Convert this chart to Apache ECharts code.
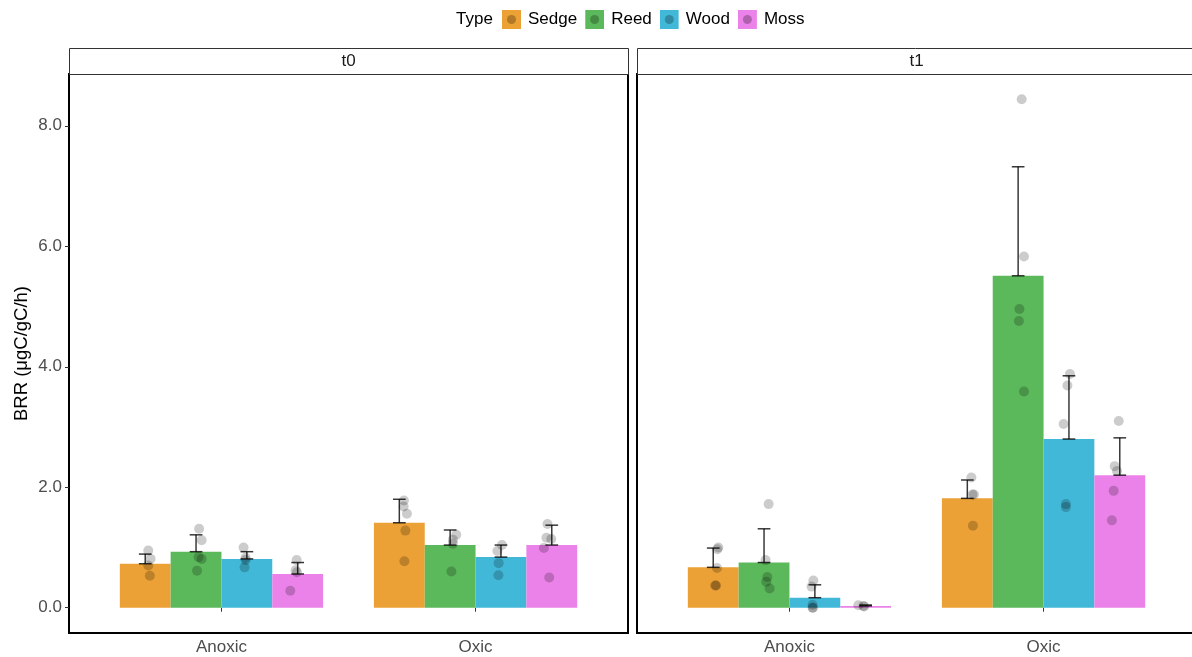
<!DOCTYPE html>
<html>
<head>
<meta charset="utf-8">
<title>BRR by type</title>
<script src="https://cdn.jsdelivr.net/npm/echarts@6/dist/echarts.min.js"></script>
<style>
  html, body { margin: 0; padding: 0; background: #fff; }
  #chart { width: 1192px; height: 657px; }
</style>
</head>
<body>
<div id="chart"></div>
<script>
// Facets, x categories and fill groups
const panelLabels = ['t0', 't1'];
const conditions = ['Anoxic', 'Oxic'];
const types = ['Sedge', 'Reed', 'Wood', 'Moss'];
const yTicks = [0, 2, 4, 6, 8];

// Mean BRR per group, ordered t0-Anoxic, t0-Oxic, t1-Anoxic, t1-Oxic
const sedgeMean = [0.73, 1.41, 0.67, 1.815];
const reedMean  = [0.93, 1.04, 0.75, 5.51];
const woodMean  = [0.81, 0.84, 0.166, 2.80];
const mossMean  = [0.56, 1.04, 0.03, 2.20];

// Standard deviations (drawn as upper error bars)
const sedgeSd = [0.16, 0.39, 0.32, 0.305];
const reedSd  = [0.28, 0.25, 0.56, 1.81];
const woodSd  = [0.12, 0.20, 0.214, 1.05];
const mossSd  = [0.19, 0.33, 0.015, 0.62];

// Replicate measurements
const sedgeReps = [[0.95, 0.81, 0.70, 0.53], [1.78, 1.68, 1.56, 1.28, 0.77], [1.00, 0.97, 0.66, 0.37, 0.37], [2.16, 1.88, 1.88, 1.36]];
const reedReps  = [[1.31, 1.12, 0.84, 0.81, 0.615], [1.21, 1.13, 1.06, 0.60], [1.72, 0.79, 0.51, 0.43, 0.32], [8.44, 5.83, 4.96, 4.76, 3.59]];
const woodReps  = [[1.00, 0.83, 0.79, 0.67], [1.04, 0.94, 0.74, 0.54], [0.45, 0.35, 0.05, 0.0, 0.0], [3.88, 3.69, 3.05, 1.72, 1.67]];
const mossReps  = [[0.79, 0.62, 0.59, 0.28], [1.39, 1.16, 1.14, 0.99, 0.50], [0.04, 0.03, 0.02], [3.10, 2.35, 2.27, 1.94, 1.45]];

// Horizontal jitter of the replicate points, in category units
const sedgeJitter = [[0.012, 0.021, 0.012, 0.018], [0.018, 0.017, 0.030, 0.024, 0.020], [0.020, 0.016, 0.015, 0.011, 0.008], [0.016, 0.020, 0.026, 0.022]];
const reedJitter  = [[0.012, 0.022, 0.010, 0.022, 0.004], [0.024, 0.011, 0.011, 0.005], [0.018, 0.006, 0.013, 0.009, 0.022], [0.014, 0.023, 0.005, 0.003, 0.023]];
const woodJitter  = [[-0.013, -0.005, -0.005, -0.009], [0.004, -0.014, -0.009, -0.010], [-0.006, -0.013, -0.009, -0.009, -0.008], [0.004, -0.006, -0.021, -0.012, -0.012]];
const mossJitter  = [[-0.004, -0.008, -0.003, -0.029], [-0.017, -0.021, -0.002, -0.031, -0.010], [-0.029, -0.009, -0.006], [-0.004, -0.020, -0.011, -0.024, -0.031]];

const means = [sedgeMean, reedMean, woodMean, mossMean];
const sds = [sedgeSd, reedSd, woodSd, mossSd];
const reps = [sedgeReps, reedReps, woodReps, mossReps];
const jitters = [sedgeJitter, reedJitter, woodJitter, mossJitter];

// Appearance
const fillColors = ['#EBA135', '#5BB85B', '#42B8D9', '#EB82E9'];
const dodgeWidth = 0.8;
const barWidth = dodgeWidth / types.length;
const capHalf = 0.025;
const FONT = '"Liberation Sans", Arial, Helvetica, sans-serif';
const panelLeft = [69, 637];
const panelTop = 74;
const panelW = 559;
const panelH = 559;

function dodge(t) {
  return -dodgeWidth / 2 + barWidth * (t + 0.5);
}

function legendIcon(color) {
  const svg = "<svg xmlns='http://www.w3.org/2000/svg' width='19' height='19'>" +
    "<rect x='0' y='0' width='19' height='19' fill='" + color + "'/>" +
    "<circle cx='9.5' cy='9.5' r='4.5' fill='#000' fill-opacity='0.25'/></svg>";
  return 'image://data:image/svg+xml;charset=utf-8,' + encodeURIComponent(svg);
}

const grids = [];
const xAxes = [];
const yAxes = [];
const series = [];
const graphics = [];

panelLabels.forEach((label, p) => {
  // the second panel runs slightly past the right edge of the canvas
  grids.push({
    left: panelLeft[p], top: panelTop, width: panelW, height: panelH,
    outerBoundsMode: 'none',
    show: true, borderColor: '#000', borderWidth: 2, backgroundColor: 'transparent'
  });
  xAxes.push({
    gridIndex: p, type: 'value', min: 0.4, max: 2.6,
    axisLine: { show: false },
    splitLine: { show: false },
    axisTick: { show: true, customValues: [1, 2], length: 4, lineStyle: { color: '#333', width: 1 } },
    axisLabel: {
      show: true, customValues: [1, 2], margin: 6,
      formatter: v => conditions[Math.round(v) - 1],
      color: '#4D4D4D', fontSize: 17, fontFamily: FONT
    }
  });
  yAxes.push({
    gridIndex: p, type: 'value', min: -0.42, max: 8.86,
    axisLine: { show: false },
    splitLine: { show: false },
    axisTick: { show: p === 0, customValues: yTicks, length: 4, lineStyle: { color: '#333', width: 1 } },
    axisLabel: {
      show: p === 0, customValues: yTicks, margin: 7,
      formatter: v => v.toFixed(1),
      color: '#4D4D4D', fontSize: 17, fontFamily: FONT
    },
    name: p === 0 ? 'BRR (μgC/gC/h)' : '',
    nameLocation: 'middle', nameGap: 38,
    nameTextStyle: { color: '#000', fontSize: 18.5, fontFamily: FONT }
  });

  // facet strip
  graphics.push({
    type: 'rect', z: 1,
    shape: { x: panelLeft[p] + 0.5, y: 48.5, width: panelW, height: 26 },
    style: { fill: '#fff', stroke: '#333', lineWidth: 1 }
  });
  graphics.push({
    type: 'text', z: 2,
    x: panelLeft[p] + panelW / 2, y: 61.5,
    style: { text: label, align: 'center', verticalAlign: 'middle', fill: '#1A1A1A', fontSize: 17, fontFamily: FONT }
  });

  types.forEach((type, t) => {
    const barData = conditions.map((c, ci) => {
      const k = p * conditions.length + ci;
      return [ci + 1 + dodge(t), means[t][k], sds[t][k]];
    });

    series.push({
      type: 'custom', name: type, xAxisIndex: p, yAxisIndex: p, z: 2,
      data: barData,
      encode: { x: 0, y: 1 },
      renderItem: (params, api) => {
        const x = api.value(0);
        const v = api.value(1);
        const a = api.coord([x - barWidth / 2, v]);
        const b = api.coord([x + barWidth / 2, 0]);
        return {
          type: 'rect',
          shape: { x: a[0], y: a[1], width: b[0] - a[0], height: b[1] - a[1] },
          style: { fill: fillColors[t] }
        };
      }
    });

    series.push({
      type: 'custom', name: type, xAxisIndex: p, yAxisIndex: p, z: 3,
      data: barData,
      encode: { x: 0, y: 1 },
      renderItem: (params, api) => {
        const x = api.value(0);
        const lo = api.value(1);
        const hi = lo + api.value(2);
        const pTop = api.coord([x, hi]);
        const pBot = api.coord([x, lo]);
        const l = api.coord([x - capHalf, hi])[0];
        const r = api.coord([x + capHalf, hi])[0];
        const st = { stroke: 'rgba(0,0,0,0.78)', lineWidth: 1.5 };
        return {
          type: 'group',
          children: [
            { type: 'line', shape: { x1: pTop[0], y1: pTop[1], x2: pBot[0], y2: pBot[1] }, style: st },
            { type: 'line', shape: { x1: l, y1: pTop[1], x2: r, y2: pTop[1] }, style: st },
            { type: 'line', shape: { x1: l, y1: pBot[1], x2: r, y2: pBot[1] }, style: st }
          ]
        };
      }
    });

    const pts = [];
    conditions.forEach((c, ci) => {
      const k = p * conditions.length + ci;
      reps[t][k].forEach((v, j) => {
        pts.push([ci + 1 + dodge(t) + jitters[t][k][j], v]);
      });
    });
    series.push({
      type: 'scatter', name: type, xAxisIndex: p, yAxisIndex: p, z: 4,
      data: pts, symbol: 'circle', symbolSize: 10,
      itemStyle: { color: 'rgba(0,0,0,0.25)' },
      emphasis: { disabled: true }
    });
  });
});

const chart = echarts.init(document.getElementById('chart'), null, { renderer: 'canvas' });
chart.setOption({
  animation: false,
  backgroundColor: '#fff',
  textStyle: { fontFamily: FONT },
  title: {
    text: 'Type', left: 451, top: 6,
    textStyle: { color: '#000', fontSize: 17, fontWeight: 'normal', fontFamily: FONT }
  },
  legend: {
    left: 497, top: 5,
    itemWidth: 19, itemHeight: 19, itemGap: 8,
    data: types.map((type, t) => ({ name: type, icon: legendIcon(fillColors[t]) })),
    textStyle: { color: '#000', fontSize: 17, fontFamily: FONT, padding: [0, 0, 0, 2] }
  },
  grid: grids,
  xAxis: xAxes,
  yAxis: yAxes,
  graphic: graphics,
  series: series
});
</script>
</body>
</html>
